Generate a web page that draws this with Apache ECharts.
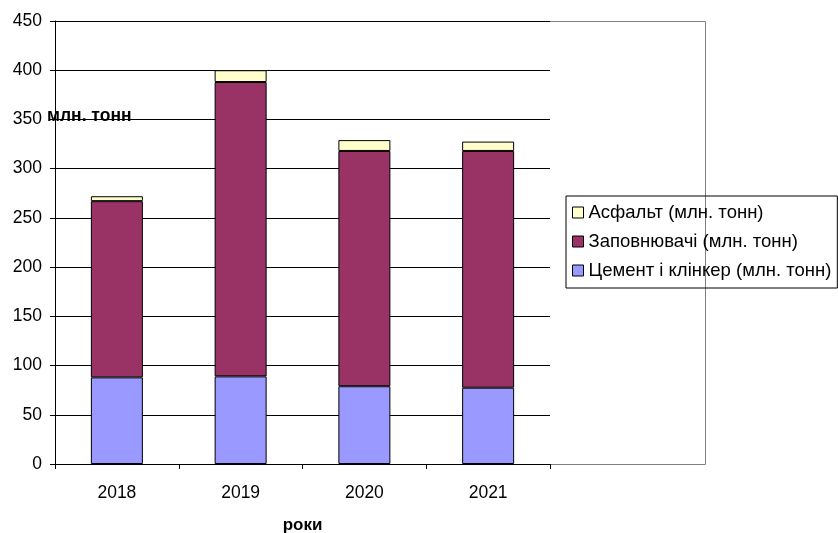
<!DOCTYPE html>
<html>
<head>
<meta charset="utf-8">
<script src="https://cdn.jsdelivr.net/npm/echarts@6/dist/echarts.min.js"></script>
<style>html,body{margin:0;padding:0;background:#fff;}#c{width:838px;height:533px;}</style>
</head>
<body>
<div id="c"></div>
<script>
const years = ['2018', '2019', '2020', '2021'];
const cement = [88, 89, 79, 77.5];
const aggregates = [179, 299, 239, 240.5];
const asphalt = [5, 12, 11, 9.5];
const seriesNames = ['Цемент і клінкер (млн. тонн)', 'Заповнювачі (млн. тонн)', 'Асфальт (млн. тонн)'];
const legendOrder = ['Асфальт (млн. тонн)', 'Заповнювачі (млн. тонн)', 'Цемент і клінкер (млн. тонн)'];
const yUnit = 'млн. тонн';
const xName = 'роки';

const FONT = '"Liberation Sans", Arial, sans-serif';
const chart = echarts.init(document.getElementById('c'), null, {renderer: 'canvas'});
const barStyle = (c) => ({color: c, borderColor: '#000', borderWidth: 1});
chart.setOption({
  animation: false,
  backgroundColor: '#fff',
  textStyle: {fontFamily: FONT},
  grid: {left: 55, right: 288, top: 21, bottom: 69, outerBoundsMode: 'none', containLabel: false},
  graphic: [
    {type: 'rect', z: -1, shape: {x: 55.5, y: 21.5, width: 650, height: 443}, style: {fill: 'none', stroke: '#808080', lineWidth: 1}},
    {type: 'text', left: 47, top: 107, z: 10, style: {text: yUnit, font: 'bold 17.5px ' + FONT, fill: '#000'}}
  ],
  legend: {
    orient: 'vertical', left: 566, top: 196,
    data: legendOrder,
    itemWidth: 11, itemHeight: 11, itemGap: 10, padding: [7, 6, 8, 6],
    borderColor: '#000', borderWidth: 1,
    textStyle: {fontSize: 18.5, color: '#000', fontFamily: FONT},
    icon: 'rect',
    itemStyle: {borderColor: '#000', borderWidth: 1}
  },
  xAxis: {
    type: 'category', data: years,
    name: xName, nameLocation: 'middle', nameGap: 53,
    nameTextStyle: {fontWeight: 'bold', fontSize: 17, color: '#000', fontFamily: FONT},
    axisLine: {lineStyle: {color: '#000', width: 1}},
    axisTick: {show: true, length: 5, lineStyle: {color: '#000'}},
    axisLabel: {fontSize: 17.5, color: '#000', margin: 20, fontFamily: FONT}
  },
  yAxis: {
    type: 'value', min: 0, max: 450, interval: 50,
    axisLine: {show: true, lineStyle: {color: '#000', width: 1}},
    axisTick: {show: true, length: 5, lineStyle: {color: '#000'}},
    axisLabel: {fontSize: 17.5, color: '#000', margin: 13, fontFamily: FONT},
    splitLine: {lineStyle: {color: '#000', width: 1}}
  },
  series: [
    {name: seriesNames[0], type: 'bar', stack: 's', data: cement, barWidth: 52, itemStyle: barStyle('#9999FF')},
    {name: seriesNames[1], type: 'bar', stack: 's', data: aggregates, barWidth: 52, itemStyle: barStyle('#993366')},
    {name: seriesNames[2], type: 'bar', stack: 's', data: asphalt, barWidth: 52, itemStyle: barStyle('#FFFFCC')}
  ]
});
</script>
</body>
</html>
